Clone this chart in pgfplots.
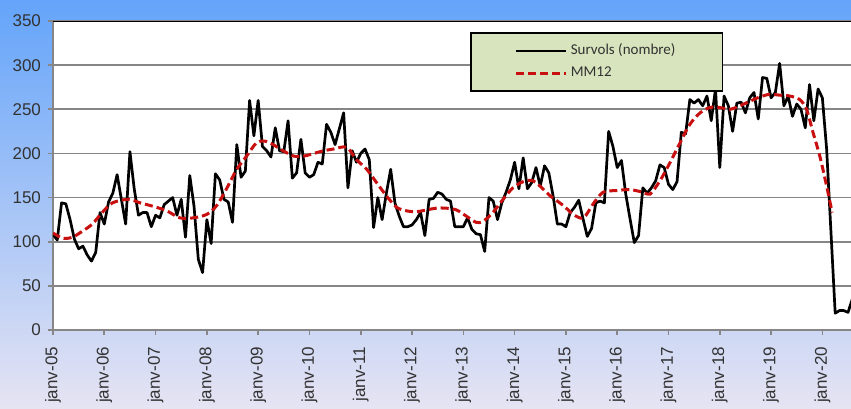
\documentclass[border=0pt]{standalone}
\usepackage{fontspec}
\setmainfont{Liberation Sans}
\newfontfamily\carlito{Carlito}
\usepackage{pgfplots}
\pgfplotsset{compat=1.18}
\definecolor{bgtop}{RGB}{100,164,250}
\definecolor{bgmid}{RGB}{175,203,240}
\definecolor{bgbot}{RGB}{230,228,243}
\definecolor{gridgray}{RGB}{134,134,134}
\definecolor{legfill}{RGB}{215,228,189}
\definecolor{mmred}{RGB}{200,16,16}
\definecolor{labgray}{RGB}{50,50,50}
\pgfplotstableread{
m v
0 108
1 102
2 144
3 143
4 125
5 103
6 92
7 95
8 85
9 78
10 88
11 133
12 120
13 145
14 155
15 176
16 148
17 120
18 202
19 160
20 130
21 133
22 133
23 117
24 130
25 127
26 142
27 146
28 150
29 130
30 148
31 105
32 175
33 140
34 80
35 65
36 125
37 98
38 177
39 170
40 148
41 145
42 122
43 210
44 173
45 180
46 260
47 220
48 260
49 208
50 203
51 196
52 229
53 203
54 202
55 237
56 172
57 178
58 216
59 178
60 173
61 176
62 190
63 188
64 233
65 224
66 210
67 228
68 246
69 161
70 203
71 190
72 200
73 205
74 193
75 116
76 150
77 125
78 155
79 182
80 144
81 129
82 117
83 117
84 119
85 125
86 133
87 107
88 148
89 149
90 156
91 154
92 148
93 146
94 117
95 117
96 117
97 127
98 114
99 109
100 108
101 89
102 150
103 146
104 125
105 144
106 156
107 170
108 190
109 160
110 195
111 160
112 167
113 184
114 163
115 186
116 178
117 152
118 120
119 120
120 117
121 133
122 139
123 147
124 126
125 106
126 115
127 144
128 146
129 144
130 225
131 208
132 184
133 192
134 154
135 126
136 99
137 107
138 161
139 155
140 161
141 169
142 187
143 184
144 165
145 159
146 168
147 224
148 222
149 261
150 257
151 261
152 254
153 265
154 237
155 273
156 184
157 265
158 254
159 225
160 257
161 258
162 246
163 263
164 269
165 239
166 286
167 285
168 263
169 269
170 302
171 254
172 265
173 242
174 256
175 250
176 229
177 278
178 237
179 273
180 263
181 205
182 112
183 19
184 22
185 22
186 20
187 35
}\survols
\pgfplotstableread{
m v
0 110
2.2 104
4.5 105
6.9 112
9.2 120
11.5 133
13.9 144
17.6 148
20.4 144
23.5 140
26.6 135
29.7 127
32.8 127
36 131
38.3 141
40.6 160
43 182
45.3 197
47.6 212
49.5 214
51.5 210
53.5 204
56.3 197
58.7 197
61 200
63.3 203
65.6 205
68.7 207
71 193
73.4 182
75.7 167
78 152
80.4 139
82.7 135
85 134
87.4 136
89.7 138
92 138
94.4 136
96.7 129
99 122
100.6 123
102.9 133
105.3 148
107.6 161
110 168
112.3 169
114.6 160
116.3 152
119.4 141
121.7 131
124.1 127
126.4 143
128.7 156
131.9 158
135 159
138.1 156
139.7 154
142 169
144.4 190
146.7 212
149 233
151.4 246
153.7 252
156 252
158.4 250
160.7 254
163 259
165.4 264
167.7 267
170 266
172.4 265
174.7 261
176.3 250
177.8 224
179.4 197
181 163
182.3 133
}\mmdouze
\begin{document}
\begin{tikzpicture}
\useasboundingbox (-26.5pt,-39pt) rectangle (399pt,165pt);
\clip (-26.5pt,-39pt) rectangle (399pt,165pt);
\shade[top color=bgtop, middle color=bgmid, bottom color=bgbot] (-26.5pt,-39pt) rectangle (399pt,165pt);
\begin{axis}[
  at={(0pt,0pt)}, anchor=south west,
  width=399pt, height=154.5pt, scale only axis,
  xmin=0, xmax=186.7, ymin=0, ymax=350,
  axis x line*=bottom, axis y line*=left,
  axis line style={gridgray, line width=0.8pt, -},
  axis background/.style={fill=white},
  ytick={0,50,...,350},
  xtick={0,12,...,180},
  xticklabels={janv-05,janv-06,janv-07,janv-08,janv-09,janv-10,janv-11,janv-12,janv-13,janv-14,janv-15,janv-16,janv-17,janv-18,janv-19,janv-20},
  tick align=outside, major tick length=2.5pt,
  tick style={gridgray, line width=0.8pt},
  ymajorgrids, grid style={gridgray, line width=0.8pt},
  /pgf/number format/assume math mode=true,
  tick label style={font=\fontsize{8.5}{10}\selectfont, text=labgray},
  x tick label style={rotate=90, anchor=east},
  xticklabel shift=2.5pt,
  legend style={at={(0.5226,0.964)}, anchor=north west, fill=legfill, draw=black, line width=0.8pt,
    font=\carlito\fontsize{7.5}{8.5}\selectfont, text=labgray,
    inner xsep=22pt, inner ysep=4pt, nodes={inner sep=1.5pt}, row sep=1.6pt},
  legend cell align=left,
  legend image code/.code={\draw[#1] (0pt,0pt) -- (25pt,0pt);},
]
\addplot[black, line width=1.35pt, line join=round] table[x=m, y=v] {\survols};
\addlegendentry{Survols (nombre)}
\addplot[mmred, line width=1.5pt, dash pattern=on 4pt off 2pt, smooth] table[x=m, y=v] {\mmdouze};
\addlegendentry{MM12}
\draw[black, line width=1pt] (rel axis cs:0,1) -- (rel axis cs:1,1);
\end{axis}
\end{tikzpicture}
\end{document}
